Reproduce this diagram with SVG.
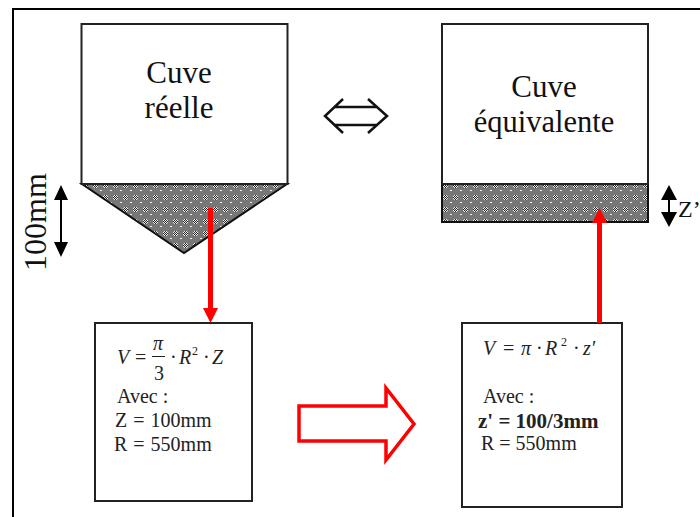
<svg xmlns="http://www.w3.org/2000/svg" width="700" height="517" viewBox="0 0 700 517">
<style>
text{font-family:"Liberation Serif","Times New Roman",serif;fill:#111}
.t{font-size:31px;text-anchor:middle}
.b{font-size:20px;fill:#222}
.m{font-size:20px;font-style:italic;fill:#222}
.box{fill:#fff;stroke:#222;stroke-width:2}
.hatch{fill:url(#dots);stroke:#111;stroke-width:2}
.blk{stroke:#000;stroke-width:2;fill:none}
.hd{fill:#000}
</style>
<defs>
<pattern id="dots" width="10" height="12" patternUnits="userSpaceOnUse">
<rect width="10" height="12" fill="#777"/>
<g fill="#eee"><rect x="4" y="3" width="1" height="1"/><rect x="6" y="3" width="1" height="1"/><rect x="3" y="4" width="1" height="1"/><rect x="5" y="4" width="1" height="1"/><rect x="7" y="4" width="1" height="1"/><rect x="4" y="5" width="1" height="1"/><rect x="6" y="5" width="1" height="1"/><rect x="3" y="6" width="1" height="1"/><rect x="5" y="6" width="1" height="1"/><rect x="7" y="6" width="1" height="1"/><rect x="4" y="7" width="1" height="1"/><rect x="6" y="7" width="1" height="1"/><rect x="0" y="10" width="2" height="1"/></g>
<g fill="#222"><rect x="5" y="3" width="1" height="1"/><rect x="4" y="4" width="1" height="1"/><rect x="6" y="4" width="1" height="1"/><rect x="3" y="5" width="1" height="1"/><rect x="5" y="5" width="1" height="1"/><rect x="7" y="5" width="1" height="1"/><rect x="4" y="6" width="1" height="1"/><rect x="6" y="6" width="1" height="1"/><rect x="5" y="7" width="1" height="1"/></g>
</pattern>
</defs>
<rect width="700" height="517" fill="#fff"/>
<path d="M13 517V9H700" fill="none" stroke="#000" stroke-width="2"/>
<g id="cuve-reelle">
<path class="hatch" d="M82 184H287L184 253z"/>
<rect class="box" x="81.500" y="24" width="206" height="160"/>
<text class="t" x="179" y="83">Cuve</text>
<text class="t" x="179" y="118">réelle</text>
</g>
<g id="cuve-equivalente">
<rect class="hatch" x="442" y="184" width="206" height="38"/>
<rect class="box" x="442" y="24" width="206" height="160"/>
<text class="t" x="544" y="97">Cuve</text>
<text class="t" x="544" y="132" style="font-size:30.500px">équivalente</text>
</g>
<g id="dim-100mm">
<text class="t" transform="translate(46 222) rotate(-90)" style="font-size:32px">100mm</text>
</g>
<g id="dim-z">
<text class="t" x="678" y="217" style="text-anchor:start;font-size:24px">Z’</text>
</g>
<g id="equiv">
<path d="M343 99L325 116L343 133M368 99L387 116L368 133M335 107H377M335 125H377" fill="none" stroke="#111" stroke-width="2.500"/>
</g>
<g id="formule-reelle">
<rect class="box" x="95" y="323" width="157" height="178"/>
<text class="m" x="117" y="364">V</text>
<text class="b" x="135" y="364">=</text>
<text class="m" x="153" y="350">π</text>
<path d="M152 356.500H165" stroke="#222" stroke-width="1"/>
<text class="b" x="154" y="380">3</text>
<text class="b" x="170" y="364">·</text>
<text class="m" x="179" y="364">R</text>
<text class="b" x="192" y="355" style="font-size:12px">2</text>
<text class="b" x="203" y="364">·</text>
<text class="m" x="212" y="364">Z</text>
<text class="b" x="117" y="403">Avec :</text>
<text class="b" x="115" y="427" style="word-spacing:1px">Z = 100mm</text>
<text class="b" x="114" y="451" style="word-spacing:1px">R = 550mm</text>
</g>
<g id="formule-equivalente">
<rect class="box" x="462" y="323" width="160" height="184"/>
<text class="m" x="483" y="355">V</text>
<text class="b" x="503" y="355">=</text>
<text class="m" x="521" y="355">π</text>
<text class="b" x="536" y="355">·</text>
<text class="m" x="545" y="355">R</text>
<text class="b" x="561" y="346" style="font-size:12px">2</text>
<text class="b" x="573" y="355">·</text>
<text class="m" x="583" y="355">z′</text>
<text class="b" x="483" y="403">Avec :</text>
<text class="b" x="478" y="428" style="font-weight:bold;font-size:21px">z' = 100/3mm</text>
<text class="b" x="481" y="450">R = 550mm</text>
</g>
<g id="connectors">
<path class="blk" d="M61 198V245"/>
<path class="hd" d="M61 185L54 200H68zM61 257L54 242H68z"/>
<path class="blk" d="M669 198V215"/>
<path class="hd" d="M669 185L661 200H677zM669 227L661 212H677z"/>
<path d="M210.500 208V310" stroke="#f00" stroke-width="5"/>
<path d="M203 308H218L210.500 323z" fill="#f00"/>
<path d="M599.500 323V222" stroke="#f00" stroke-width="5"/>
<path d="M592 223H607L599.500 208z" fill="#f00"/>
<path d="M299 406H386V388L414 424L386 460V441H299z" stroke="#f00" stroke-width="3.500" fill="none"/>
</g>
</svg>
